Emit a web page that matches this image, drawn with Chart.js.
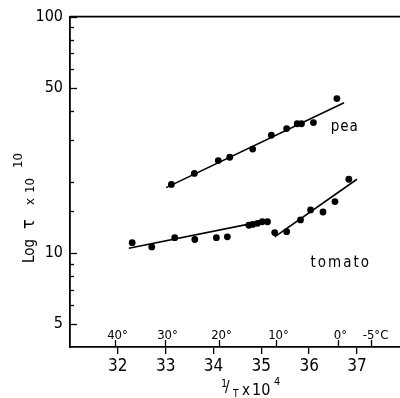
<!DOCTYPE html>
<html>
<head>
<meta charset="utf-8">
<script src="https://cdn.jsdelivr.net/npm/chart.js@4/dist/chart.umd.min.js"></script>
<style>
  html, body { margin: 0; padding: 0; background: #fff; }
</style>
</head>
<body>
<canvas id="chart" width="400" height="398"></canvas>
<script>
// values (x = 1/T x 10^4, y = tau x 10^10)
const peaX = [33.12, 33.60, 34.10, 34.34, 34.82, 35.21, 35.53, 35.75, 35.84, 36.09, 36.58];
const peaY = [19.5, 21.7, 24.6, 25.4, 27.5, 31.5, 33.6, 35.2, 35.2, 35.6, 45.0];
const peaFitX = [33.01, 36.73];
const peaFitY = [18.9, 43.2];

const tomatoLowX = [32.30, 32.71, 33.19, 33.61, 34.06, 34.29, 34.74, 34.82, 34.92, 35.02, 35.13];
const tomatoLowY = [11.05, 10.6, 11.6, 11.4, 11.6, 11.7, 13.1, 13.2, 13.35, 13.55, 13.55];
const tomatoLowFitX = [32.23, 35.18];
const tomatoLowFitY = [10.47, 13.8];

const tomatoHighX = [35.28, 35.53, 35.82, 36.03, 36.29, 36.54, 36.83];
const tomatoHighY = [12.2, 12.3, 13.8, 15.2, 14.9, 16.5, 20.5];
const tomatoHighFitX = [35.28, 37.0];
const tomatoHighFitY = [11.7, 20.5];

const xTicks = [32, 33, 34, 35, 36, 37];
const yLabels = [5, 10, 50, 100];
const celsius = [40, 30, 20, 10, 0, -5];
const celsiusLabels = ["40°", "30°", "20°", "10°", "0°", "-5°C"];

const FONT = "'DejaVu Sans Condensed', 'DejaVu Sans', sans-serif";
const pts = (xs, ys) => xs.map((x, i) => ({ x: x, y: ys[i] }));

const dots = (xs, ys) => ({
  data: pts(xs, ys),
  showLine: false,
  pointRadius: 3.4,
  pointBackgroundColor: "#000",
  pointBorderColor: "#000",
  pointBorderWidth: 0,
});
const fit = (xs, ys) => ({
  data: pts(xs, ys),
  showLine: true,
  borderColor: "#000",
  borderWidth: 1.6,
  pointRadius: 0,
  fill: false,
});

const extras = {
  id: "extras",
  afterDraw(chart) {
    const ctx = chart.ctx;
    const area = chart.chartArea;
    const xs = chart.scales.x;
    const ys = chart.scales.y;
    ctx.save();
    ctx.strokeStyle = "#000";
    ctx.fillStyle = "#000";
    ctx.lineWidth = 1.6;

    // top frame line
    ctx.beginPath();
    ctx.moveTo(area.left, area.top);
    ctx.lineTo(area.right, area.top);
    ctx.stroke();

    // inward y ticks
    ctx.lineWidth = 1.3;
    ys.ticks.forEach((t) => {
      if (t.value <= 4) return;
      const py = Math.round(ys.getPixelForValue(t.value)) + 0.5;
      const len = yLabels.includes(t.value) ? 7 : 4;
      ctx.beginPath();
      ctx.moveTo(area.left, py);
      ctx.lineTo(area.left + len, py);
      ctx.stroke();
    });

    // celsius scale inside the plot
    ctx.font = "13px " + FONT;
    ctx.textAlign = "center";
    ctx.textBaseline = "alphabetic";
    celsius.forEach((c, i) => {
      const px = Math.round(xs.getPixelForValue(1e4 / (c + 273.15))) + 0.5;
      ctx.beginPath();
      ctx.moveTo(px, area.bottom);
      ctx.lineTo(px, area.bottom - 7);
      ctx.stroke();
      const shift = i === celsius.length - 1 ? 4 : 2;
      ctx.fillText(celsiusLabels[i], px + shift, area.bottom - 8);
    });

    // curve labels
    ctx.font = "15px " + FONT;
    ctx.textAlign = "left";
    ctx.textBaseline = "middle";
    ctx.letterSpacing = "1px";
    ctx.fillText("pea", xs.getPixelForValue(36.45), ys.getPixelForValue(34));
    ctx.letterSpacing = "2px";
    ctx.fillText("tomato", xs.getPixelForValue(36.03), ys.getPixelForValue(9.1));
    ctx.letterSpacing = "0px";

    // x title: 1/T x 10^4
    ctx.textBaseline = "alphabetic";
    ctx.font = "11px " + FONT;
    ctx.fillText("1", 221, 387);
    ctx.font = "15px " + FONT;
    ctx.fillText("/", 225, 392);
    ctx.font = "10px " + FONT;
    ctx.fillText("T", 233, 397);
    ctx.font = "15px " + FONT;
    ctx.fillText("x", 242, 395);
    ctx.font = "16px " + FONT;
    ctx.fillText("10", 252, 395);
    ctx.font = "11px " + FONT;
    ctx.fillText("4", 274, 385);

    // y title: Log tau x 10^10
    ctx.translate(34, 263);
    ctx.rotate(-Math.PI / 2);
    ctx.font = "15px " + FONT;
    ctx.fillText("Log", 0, 0);
    ctx.font = "18px " + FONT;
    ctx.fillText("τ", 34, 0);
    ctx.font = "13px " + FONT;
    ctx.fillText("x", 58, 0);
    ctx.fillText("10", 70, 0);
    ctx.fillText("10", 95, -12);
    ctx.restore();
  },
};

new Chart(document.getElementById("chart"), {
  type: "scatter",
  data: {
    datasets: [
      dots(peaX, peaY),
      fit(peaFitX, peaFitY),
      dots(tomatoLowX, tomatoLowY),
      fit(tomatoLowFitX, tomatoLowFitY),
      dots(tomatoHighX, tomatoHighY),
      fit(tomatoHighFitX, tomatoHighFitY),
    ],
  },
  options: {
    responsive: false,
    animation: false,
    devicePixelRatio: 1,
    layout: { autoPadding: false, padding: { top: 16, left: 0, right: 0, bottom: 0 } },
    plugins: {
      legend: { display: false },
      tooltip: { enabled: false },
    },
    scales: {
      x: {
        type: "linear",
        min: 31,
        max: 37.9,
        afterBuildTicks: (s) => {
          s.ticks = xTicks.map((v) => ({ value: v }));
        },
        afterFit: (s) => {
          s.height = 51;
        },
        grid: {
          drawOnChartArea: false,
          drawTicks: true,
          tickLength: 7,
          color: "#000",
          lineWidth: 1.3,
        },
        border: { display: true, color: "#000", width: 1.8 },
        ticks: {
          color: "#000",
          font: { family: FONT, size: 17 },
          padding: 2,
          maxRotation: 0,
          autoSkip: false,
        },
      },
      y: {
        type: "logarithmic",
        min: 4,
        max: 100,
        afterFit: (s) => {
          s.width = 70;
        },
        grid: { display: false, drawTicks: false },
        border: { display: true, color: "#000", width: 1.8 },
        ticks: {
          color: "#000",
          font: { family: FONT, size: 16 },
          padding: 7,
          autoSkip: false,
          callback: (v) => (yLabels.includes(v) ? String(v) : ""),
        },
      },
    },
  },
  plugins: [extras],
});
</script>
</body>
</html>
